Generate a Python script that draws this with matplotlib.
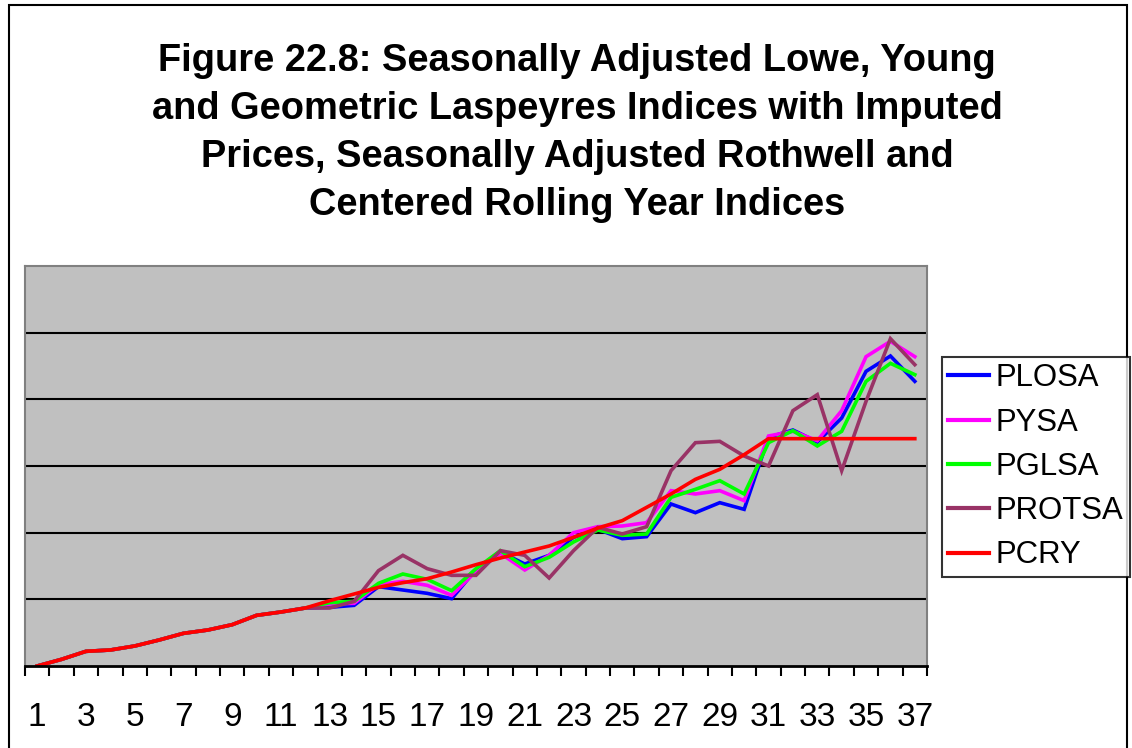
import matplotlib
matplotlib.use("Agg")
import matplotlib.pyplot as plt
from matplotlib.patches import Rectangle
from matplotlib.ticker import FixedLocator, NullFormatter

plt.rcParams["font.family"] = ["Liberation Sans", "DejaVu Sans"]

periods = list(range(1, 38))

plosa = [1.000, 1.010, 1.022, 1.024, 1.030, 1.039, 1.049, 1.054, 1.062, 1.076,
         1.081, 1.087, 1.088, 1.091, 1.119, 1.114, 1.109, 1.101, 1.145, 1.171,
         1.153, 1.166, 1.193, 1.205, 1.191, 1.194, 1.243, 1.230, 1.245, 1.235,
         1.343, 1.354, 1.336, 1.372, 1.442, 1.465, 1.427]
pysa = [1.000, 1.010, 1.022, 1.024, 1.030, 1.039, 1.049, 1.054, 1.062, 1.076,
        1.081, 1.087, 1.093, 1.094, 1.122, 1.127, 1.121, 1.106, 1.142, 1.169,
        1.144, 1.166, 1.200, 1.209, 1.210, 1.215, 1.263, 1.258, 1.263, 1.248,
        1.345, 1.352, 1.338, 1.383, 1.464, 1.487, 1.464]
pglsa = [1.000, 1.010, 1.022, 1.024, 1.030, 1.039, 1.049, 1.054, 1.062, 1.076,
         1.081, 1.087, 1.095, 1.097, 1.124, 1.138, 1.130, 1.113, 1.146, 1.173,
         1.149, 1.163, 1.186, 1.204, 1.196, 1.198, 1.253, 1.265, 1.278, 1.258,
         1.335, 1.353, 1.330, 1.352, 1.427, 1.454, 1.437]
protsa = [1.000, 1.010, 1.022, 1.024, 1.030, 1.039, 1.049, 1.054, 1.062, 1.076,
          1.081, 1.087, 1.087, 1.097, 1.143, 1.166, 1.146, 1.136, 1.136, 1.173,
          1.166, 1.132, 1.173, 1.208, 1.198, 1.209, 1.293, 1.335, 1.337, 1.315,
          1.300, 1.383, 1.407, 1.293, 1.397, 1.491, 1.452]
pcry = [1.000, 1.010, 1.022, 1.024, 1.030, 1.039, 1.049, 1.054, 1.062, 1.076,
        1.081, 1.087, 1.098, 1.108, 1.118, 1.125, 1.131, 1.141, 1.152, 1.162,
        1.171, 1.180, 1.193, 1.207, 1.218, 1.238, 1.258, 1.280, 1.295, 1.317,
        1.341, 1.341, 1.341, 1.341, 1.341, 1.341, 1.341]

series = [("PLOSA", plosa, "#0000FF"),
          ("PYSA", pysa, "#FF00FF"),
          ("PGLSA", pglsa, "#00FF00"),
          ("PROTSA", protsa, "#993366"),
          ("PCRY", pcry, "#FF0000")]

title = ("Figure 22.8: Seasonally Adjusted Lowe, Young\n"
         "and Geometric Laspeyres Indices with Imputed\n"
         "Prices, Seasonally Adjusted Rothwell and\n"
         "Centered Rolling Year Indices")

W, H = 1132, 748
fig = plt.figure(figsize=(W / 100, H / 100), dpi=100)

# outer chart border
fig.patches.append(Rectangle((9 / W, -0.01), (1127 - 9) / W, 1.01 - 5 / H,
                             transform=fig.transFigure, fill=False,
                             edgecolor="black", linewidth=1.5))

ax = fig.add_axes([25 / W, 1 - 666 / H, (927 - 25) / W, (666 - 266) / H])
ax.set_facecolor("#C0C0C0")

for name, vals, col in series:
    ax.plot(periods, vals, color=col, linewidth=2.6, label=name,
            solid_joinstyle="miter")

ax.set_xlim(0.5, 37.5)
ax.set_ylim(1.0, 1.6)

# horizontal gridlines
ax.set_yticks([1.1, 1.2, 1.3, 1.4, 1.5])
ax.yaxis.grid(True, color="black", linewidth=1.5)
ax.set_axisbelow(True)
ax.tick_params(axis="y", left=False, labelleft=False)

# category axis: ticks between categories, labels on odd periods
ax.set_xticks(periods[::2])
ax.set_xticklabels([str(p) for p in periods[::2]], fontsize=24)
ax.tick_params(axis="x", which="major", length=0, pad=26)
ax.xaxis.set_minor_locator(FixedLocator([p + 0.5 for p in range(0, 38)]))
ax.xaxis.set_minor_formatter(NullFormatter())
ax.tick_params(axis="x", which="minor", length=7, width=1.5, direction="out")

for s in ["top", "right", "left"]:
    ax.spines[s].set_color("#808080")
    ax.spines[s].set_linewidth(1.5)
ax.spines["bottom"].set_color("black")
ax.spines["bottom"].set_linewidth(2)

fig.text(577 / W, 1 - 133 / H, title, ha="center", va="center",
         fontsize=27.4, fontweight="bold", linespacing=1.42)

leg = fig.legend(loc="upper left", bbox_to_anchor=(942 / W, 1 - 357 / H),
                 borderaxespad=0, fontsize=22.4, frameon=True, fancybox=False,
                 handlelength=1.3, handletextpad=0.23, labelspacing=0.46,
                 borderpad=0.2)
leg.get_frame().set_edgecolor("black")
leg.get_frame().set_linewidth(1.5)
for line in leg.get_lines():
    line.set_linewidth(3)

fig.savefig("out.png", dpi=100)
